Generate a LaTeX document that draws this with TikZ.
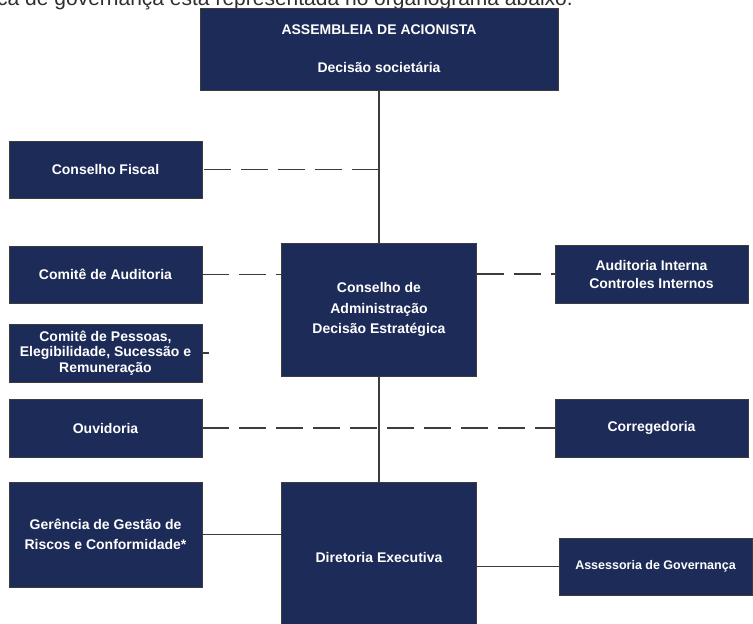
\documentclass[tikz,border=0pt]{standalone}
\usepackage{fontspec}
\setmainfont{Liberation Sans}
\usetikzlibrary{positioning}
\definecolor{navy}{HTML}{1D2B58}
\definecolor{edgegray}{HTML}{3C3C3C}

\begin{document}
\begin{tikzpicture}[
  x=1pt,y=-1pt,
  bx/.style={rectangle,draw=edgegray,line width=0.9pt,fill=navy,text=white,
    font=\bfseries\fontsize{14}{20}\selectfont,align=center,
    inner sep=0pt,outer sep=0pt},
  sd/.style={bx,minimum width=193pt,minimum height=57pt},
  ln/.style={draw=edgegray,line width=1.4pt},
  dl/.style={ln,dash pattern=on 27pt off 10pt}
]
\useasboundingbox (0,0) rectangle (753,624);
\clip (0,0) rectangle (753,624);

\node[anchor=base east,inner sep=0pt,text=black!82,
  font=\fontsize{21}{21}\selectfont] (cap) at (573,5)
  {ca de governança está representada no organograma abaixo.};

% coluna central
\node[bx,minimum width=358pt,minimum height=82pt] (s0) at (379,49)
  {ASSEMBLEIA DE ACIONISTA\\[18pt]Decisão societária};
\node[bx,minimum width=195pt,minimum height=133pt,below=153pt of s0,
  font=\bfseries\fontsize{14}{20.5}\selectfont] (s1)
  {Conselho de\\Administração\\Decisão Estratégica};
\node[bx,minimum width=195pt,minimum height=150pt,below=106pt of s1] (s2)
  {Diretoria Executiva};

% coluna esquerda
\node[sd] (l1) at (105.5,169.5) {Conselho Fiscal};
\node[sd,below=48pt of l1] (l2) {Comitê de Auditoria};
\node[sd,minimum height=58pt,below=21pt of l2,
  font=\bfseries\fontsize{14}{15.5}\selectfont] (l3)
  {Comitê de Pessoas,\\Elegibilidade, Sucessão e\\Remuneração};
\node[sd,minimum height=58pt,below=17pt of l3] (l4) {Ouvidoria};
\node[sd,minimum height=105pt,below=25pt of l4] (l5)
  {Gerência de Gestão de\\Riscos e Conformidade*};

% coluna direita
\node[sd,minimum height=58pt,font=\bfseries\fontsize{14}{18}\selectfont] (r1)
  at (651.5,274) {Auditoria Interna\\Controles Internos};
\node[sd,minimum height=58pt,below=96pt of r1] (r2) {Corregedoria};
\node[sd,font=\bfseries\fontsize{12.5}{15}\selectfont] (r3) at (655.5,566.5)
  {Assessoria de Governança};

\coordinate (j1) at (s0.south |- l1.east);
\coordinate (t1) at ([xshift=7pt]l3.east);

\draw[ln] (s0) -- (s1);
\draw[ln] (s1) -- (s2);
\draw[dl] (j1) -- (l1.east);
\draw[dl] (l2.east) -- (l2.east -| s1.west);
\draw[dl] (s1.east |- r1.west) -- (r1.west);
\draw[ln] (l3.east) -- (t1);
\draw[dl] (l4.east) -- (l4.east -| r2.west);
\draw[ln] (l5.east) -- (l5.east -| s2.west);
\draw[ln] (r3.west) -- (r3.west -| s2.east);
\end{tikzpicture}
\end{document}
